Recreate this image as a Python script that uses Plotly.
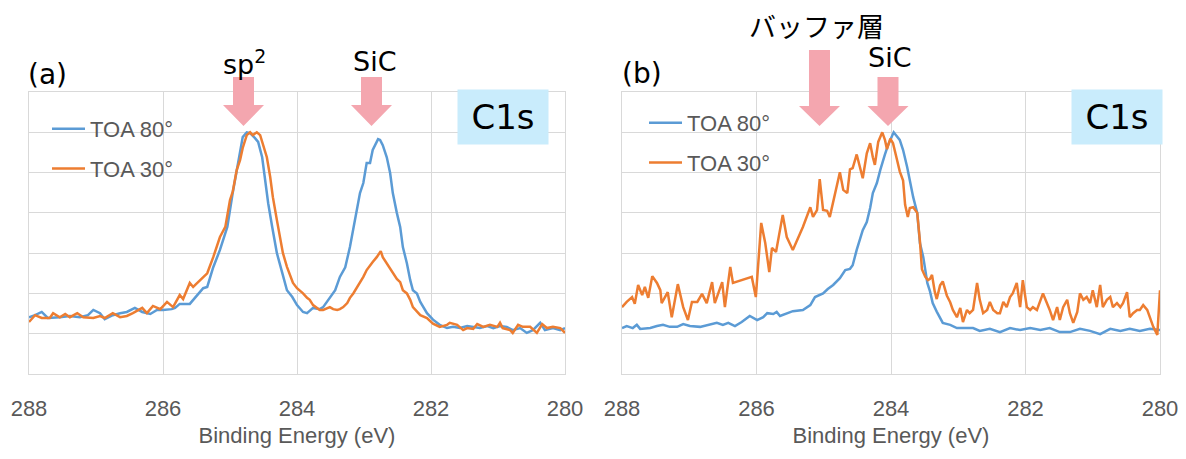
import plotly.graph_objects as go

W, H = 1186, 459

# ---------------- data (a) ----------------
E_a_80 = [288.00, 287.91, 287.81, 287.72, 287.54, 287.39, 287.24, 287.12, 287.04, 286.94,
          286.87, 286.75, 286.64, 286.54, 286.42, 286.31, 286.19, 286.09, 286.00, 285.87,
          285.82, 285.75, 285.60, 285.49, 285.40, 285.34, 285.25, 285.15, 285.04, 284.96,
          284.90, 284.85, 284.81, 284.75, 284.70, 284.63, 284.58, 284.52, 284.48, 284.43,
          284.37, 284.30, 284.22, 284.15, 284.07, 284.00, 283.91, 283.85, 283.76, 283.66,
          283.61, 283.51, 283.43, 283.36, 283.28, 283.21, 283.13, 283.06, 283.01, 282.96,
          282.91, 282.87, 282.79, 282.76, 282.72, 282.66, 282.61, 282.57, 282.51, 282.46,
          282.42, 282.36, 282.31, 282.27, 282.21, 282.16, 282.06, 281.97, 281.87, 281.76,
          281.67, 281.57, 281.46, 281.37, 281.27, 281.16, 281.07, 280.97, 280.87, 280.78,
          280.67, 280.57, 280.48, 280.37, 280.30, 280.18, 280.07, 280.00]
I_a_80 = [1.41, 1.46, 1.54, 1.39, 1.41, 1.44, 1.41, 1.46, 1.59, 1.51,
          1.36, 1.46, 1.51, 1.54, 1.64, 1.54, 1.49, 1.59, 1.59, 1.61,
          1.64, 1.74, 1.74, 1.94, 2.13, 2.16, 2.65, 3.08, 3.65, 4.49,
          5.06, 5.56, 5.88, 6.00, 5.98, 5.86, 5.76, 5.38, 4.81, 4.24,
          3.65, 3.00, 2.51, 2.08, 1.91, 1.71, 1.54, 1.51, 1.64, 1.61,
          1.66, 1.91, 2.08, 2.41, 2.65, 3.15, 3.90, 4.49, 4.74, 5.24,
          5.24, 5.56, 5.83, 5.81, 5.68, 5.38, 4.99, 4.49, 4.00, 3.65,
          3.15, 2.75, 2.33, 2.08, 2.00, 1.79, 1.51, 1.35, 1.22, 1.14,
          1.17, 1.14, 1.19, 1.17, 1.14, 1.19, 1.14, 1.19, 1.17, 1.09,
          1.14, 1.02, 1.09, 1.27, 1.09, 1.14, 1.09, 1.14]

E_a_30 = [288.00, 287.91, 287.81, 287.69, 287.64, 287.54, 287.46, 287.39, 287.28, 287.19,
          287.04, 286.94, 286.87, 286.75, 286.64, 286.54, 286.45, 286.31, 286.24, 286.15,
          286.04, 285.94, 285.85, 285.75, 285.70, 285.60, 285.55, 285.45, 285.34, 285.25,
          285.15, 285.07, 285.00, 284.96, 284.90, 284.85, 284.81, 284.75, 284.70, 284.66,
          284.60, 284.55, 284.51, 284.45, 284.40, 284.36, 284.30, 284.25, 284.21, 284.15,
          284.10, 284.06, 284.00, 283.96, 283.91, 283.85, 283.81, 283.76, 283.70, 283.66,
          283.61, 283.55, 283.51, 283.46, 283.40, 283.36, 283.31, 283.25, 283.21, 283.16,
          283.10, 283.06, 283.01, 282.96, 282.91, 282.87, 282.81, 282.75, 282.72, 282.66,
          282.61, 282.57, 282.51, 282.46, 282.42, 282.36, 282.31, 282.27, 282.21, 282.16,
          282.06, 281.97, 281.87, 281.76, 281.72, 281.61, 281.52, 281.46, 281.37, 281.31,
          281.22, 281.12, 281.01, 280.97, 280.93, 280.82, 280.78, 280.70, 280.63, 280.52,
          280.42, 280.34, 280.27, 280.18, 280.07, 280.00]
I_a_30 = [1.29, 1.46, 1.39, 1.39, 1.51, 1.41, 1.49, 1.41, 1.51, 1.41,
          1.39, 1.44, 1.39, 1.51, 1.41, 1.44, 1.51, 1.64, 1.51, 1.69,
          1.61, 1.79, 1.66, 1.96, 1.86, 2.26, 2.16, 2.33, 2.50, 2.90,
          3.40, 3.65, 4.32, 4.52, 5.06, 5.31, 5.61, 5.93, 6.00, 5.93,
          6.00, 5.93, 5.73, 5.38, 4.89, 4.39, 3.82, 3.40, 3.00, 2.66,
          2.41, 2.26, 2.13, 2.08, 2.00, 1.89, 1.84, 1.71, 1.64, 1.59,
          1.59, 1.64, 1.66, 1.61, 1.59, 1.61, 1.66, 1.76, 1.89, 2.00,
          2.16, 2.28, 2.41, 2.58, 2.70, 2.78, 2.90, 3.05, 2.90, 2.75,
          2.63, 2.51, 2.36, 2.28, 2.08, 2.00, 1.84, 1.66, 1.54, 1.46,
          1.39, 1.25, 1.17, 1.22, 1.27, 1.22, 1.09, 1.14, 1.12, 1.24,
          1.17, 1.22, 1.17, 1.27, 1.14, 1.09, 1.02, 1.22, 1.17, 1.17,
          1.02, 1.24, 1.14, 1.17, 1.14, 1.02]

# ---------------- data (b) ----------------
E_b_80 = [288.00, 287.93, 287.84, 287.78, 287.73, 287.58, 287.48, 287.39, 287.29, 287.18,
          287.09, 286.99, 286.84, 286.69, 286.59, 286.50, 286.42, 286.32, 286.22, 286.10,
          285.99, 285.90, 285.84, 285.75, 285.70, 285.65, 285.55, 285.46, 285.31, 285.20,
          285.13, 285.01, 284.94, 284.86, 284.76, 284.68, 284.61, 284.57, 284.51, 284.42,
          284.36, 284.31, 284.27, 284.21, 284.16, 284.12, 284.09, 284.04, 283.96, 283.87,
          283.82, 283.76, 283.72, 283.67, 283.61, 283.57, 283.52, 283.46, 283.42, 283.38,
          283.32, 283.23, 283.12, 283.02, 282.93, 282.78, 282.68, 282.53, 282.38, 282.23,
          282.08, 281.93, 281.78, 281.64, 281.49, 281.34, 281.19, 281.04, 280.89, 280.74,
          280.59, 280.45, 280.30, 280.15, 280.00]
I_b_80 = [1.14, 1.19, 1.14, 1.22, 1.12, 1.14, 1.19, 1.22, 1.17, 1.17,
          1.24, 1.19, 1.17, 1.22, 1.27, 1.22, 1.27, 1.19, 1.29, 1.44,
          1.34, 1.41, 1.51, 1.49, 1.54, 1.44, 1.51, 1.56, 1.59, 1.71,
          1.91, 2.00, 2.11, 2.21, 2.38, 2.58, 2.61, 2.70, 3.08, 3.57,
          3.77, 4.12, 4.49, 4.74, 5.06, 5.30, 5.45, 5.70, 6.00, 5.81,
          5.56, 5.14, 4.80, 4.39, 4.00, 3.25, 2.90, 2.26, 2.05, 1.76,
          1.55, 1.27, 1.22, 1.14, 1.14, 1.14, 1.07, 1.12, 1.04, 1.14,
          1.09, 1.14, 1.09, 1.14, 1.04, 1.04, 1.12, 1.07, 0.99, 1.12,
          1.07, 1.12, 1.07, 1.12, 1.09]

E_b_30 = [288.00, 287.93, 287.85, 287.81, 287.76, 287.70, 287.66, 287.61, 287.55, 287.48,
          287.43, 287.41, 287.32, 287.26, 287.17, 287.09, 287.02, 286.96, 286.88, 286.81,
          286.74, 286.66, 286.62, 286.51, 286.47, 286.39, 286.35, 286.25, 286.14, 286.07,
          286.01, 285.93, 285.87, 285.81, 285.77, 285.71, 285.61, 285.55, 285.46, 285.38,
          285.31, 285.20, 285.16, 285.10, 285.06, 285.01, 284.95, 284.91, 284.86, 284.80,
          284.76, 284.71, 284.65, 284.61, 284.57, 284.51, 284.46, 284.42, 284.36, 284.31,
          284.27, 284.24, 284.19, 284.13, 284.09, 284.06, 284.01, 283.97, 283.91, 283.87,
          283.82, 283.79, 283.75, 283.72, 283.67, 283.61, 283.57, 283.54, 283.49, 283.45,
          283.42, 283.39, 283.35, 283.32, 283.27, 283.23, 283.17, 283.12, 283.08, 283.02,
          282.97, 282.93, 282.87, 282.83, 282.78, 282.72, 282.68, 282.63, 282.57, 282.53,
          282.48, 282.42, 282.38, 282.33, 282.28, 282.23, 282.19, 282.13, 282.08, 282.04,
          281.98, 281.93, 281.89, 281.83, 281.74, 281.68, 281.64, 281.59, 281.53, 281.49,
          281.44, 281.38, 281.34, 281.29, 281.23, 281.19, 281.14, 281.09, 281.04, 281.00,
          280.94, 280.89, 280.85, 280.79, 280.74, 280.70, 280.64, 280.59, 280.55, 280.49,
          280.45, 280.40, 280.34, 280.30, 280.25, 280.19, 280.15, 280.10, 280.04, 280.00]
I_b_30 = [1.66, 1.79, 1.91, 1.74, 2.21, 1.96, 2.16, 1.89, 2.43, 2.26,
          2.08, 1.76, 2.03, 1.41, 2.23, 1.66, 1.34, 1.79, 1.79, 1.99,
          1.76, 2.28, 1.76, 2.28, 1.66, 2.66, 2.26, 2.31, 2.36, 2.41,
          1.91, 3.75, 3.25, 2.53, 3.13, 3.03, 3.95, 3.40, 3.08, 3.37,
          3.65, 4.14, 3.90, 4.07, 4.84, 4.07, 4.05, 3.90, 4.30, 4.74,
          5.01, 4.57, 4.49, 5.08, 5.11, 5.45, 5.14, 4.86, 5.48, 5.73,
          5.38, 5.19, 5.76, 6.00, 5.81, 5.58, 5.84, 5.73, 5.31, 5.03,
          4.80, 4.20, 3.90, 4.12, 4.14, 4.00, 3.30, 2.60, 2.41, 2.33,
          2.36, 2.46, 2.05, 1.86, 2.20, 2.30, 1.95, 1.78, 1.59, 1.41,
          1.64, 1.29, 1.59, 1.51, 1.59, 2.26, 1.84, 1.51, 1.59, 1.79,
          1.59, 1.51, 1.51, 1.79, 1.66, 1.91, 2.00, 2.26, 1.66, 2.33,
          1.66, 1.59, 1.66, 1.59, 2.00, 1.76, 1.59, 1.34, 1.66, 1.34,
          1.66, 1.84, 1.51, 1.27, 1.54, 2.00, 1.84, 1.91, 1.76, 2.08,
          1.66, 2.21, 1.66, 1.84, 1.91, 1.66, 1.76, 1.66, 1.76, 2.03,
          1.41, 1.51, 1.59, 1.59, 1.71, 1.59, 1.41, 1.17, 0.97, 2.08]

series_names = ["TOA 80°", "TOA 30°"]
tick_vals = [288, 286, 284, 282, 280]
x_title = "Binding Energy (eV)"

BLUE = "#5B9BD5"
ORANGE = "#ED7D31"
PINK = "#F4A6AF"
GRID = "#D9D9D9"
GRAY = "#595959"
SANS = "Liberation Sans, Arial, sans-serif"
LABEL_FONT = "DejaVu Sans, Verdana, sans-serif"


def px(x):
    return x / W


def py(y):
    return 1 - y / H


fig = go.Figure()
fig.add_trace(go.Scatter(x=E_a_80, y=I_a_80, name=series_names[0], mode="lines",
                         line=dict(color=BLUE, width=2.5), xaxis="x", yaxis="y",
                         legend="legend", legendgroup="a80"))
fig.add_trace(go.Scatter(x=E_a_30, y=I_a_30, name=series_names[1], mode="lines",
                         line=dict(color=ORANGE, width=2.5), xaxis="x", yaxis="y",
                         legend="legend", legendgroup="a30"))
fig.add_trace(go.Scatter(x=E_b_80, y=I_b_80, name=series_names[0], mode="lines",
                         line=dict(color=BLUE, width=2.5), xaxis="x2", yaxis="y2",
                         legend="legend2", legendgroup="b80"))
fig.add_trace(go.Scatter(x=E_b_30, y=I_b_30, name=series_names[1], mode="lines",
                         line=dict(color=ORANGE, width=2.5), xaxis="x2", yaxis="y2",
                         legend="legend2", legendgroup="b30"))

xcommon = dict(range=[288, 280], tickvals=tick_vals, ticktext=[str(v) for v in tick_vals],
               showgrid=True, gridcolor=GRID, gridwidth=1, zeroline=False,
               showline=True, mirror=True, linecolor=GRID, linewidth=1,
               ticks="", ticklabelstandoff=15,
               tickfont=dict(family=SANS, size=22, color=GRAY),
               title=dict(text=x_title, font=dict(family=SANS, size=22, color=GRAY), standoff=7),
               automargin=False, fixedrange=True)
ycommon = dict(range=[0, 7], dtick=1, tick0=0, showgrid=True, gridcolor=GRID, gridwidth=1,
               zeroline=False, showticklabels=False, ticks="",
               showline=True, mirror=True, linecolor=GRID, linewidth=1,
               automargin=False, fixedrange=True)

legcommon = dict(font=dict(family=SANS, size=22, color=GRAY), bgcolor="rgba(0,0,0,0)",
                 xanchor="left", yanchor="top", tracegroupgap=8, itemwidth=33,
                 traceorder="grouped")

fig.update_layout(
    width=W, height=H,
    margin=dict(l=0, r=0, t=0, b=0),
    paper_bgcolor="white", plot_bgcolor="white",
    showlegend=True,
    xaxis=dict(domain=[px(29), px(565)], anchor="y", **xcommon),
    yaxis=dict(domain=[py(374), py(92)], anchor="x", **ycommon),
    xaxis2=dict(domain=[px(622), px(1160)], anchor="y2", **xcommon),
    yaxis2=dict(domain=[py(374), py(92)], anchor="x2", **ycommon),
    legend=dict(x=px(47), y=py(108), **legcommon),
    legend2=dict(x=px(644), y=py(102), **legcommon),
)


def arrow_path(cx, shaft_top, head_top, tip, shaft_w=21, head_w=41):
    pts = [(cx - shaft_w / 2, shaft_top), (cx + shaft_w / 2, shaft_top),
           (cx + shaft_w / 2, head_top), (cx + head_w / 2, head_top),
           (cx, tip), (cx - head_w / 2, head_top), (cx - shaft_w / 2, head_top)]
    d = "M " + " L ".join(f"{px(x):.5f},{py(y):.5f}" for x, y in pts) + " Z"
    return d


arrows = [(243.5, 77, 105, 126), (371.5, 77, 105, 126),
          (819.5, 50, 106, 126), (888, 77, 106, 126)]
for cx, st, ht, tp in arrows:
    fig.add_shape(type="path", path=arrow_path(cx, st, ht, tp), xref="paper", yref="paper",
                  fillcolor=PINK, line=dict(width=0), layer="above")

labels = [("(a)", 47, 75, LABEL_FONT, 28),
          ("(b)", 642, 74, LABEL_FONT, 28),
          ("sp<sup>2</sup>", 244, 62, LABEL_FONT, 27),
          ("SiC", 375, 61, LABEL_FONT, 27),
          ("SiC", 890, 57, LABEL_FONT, 27),
          ("バッファ層", 816, 26, "Noto Sans CJK JP", 27)]
for t, x, y, f, s in labels:
    fig.add_annotation(text=t, x=px(x), y=py(y), xref="paper", yref="paper",
                       xanchor="center", yanchor="middle", showarrow=False,
                       font=dict(family=f, size=s, color="#000000"))

for cx in (503, 1117):
    fig.add_annotation(text="C1s", x=px(cx), y=py(117), xref="paper", yref="paper",
                       xanchor="center", yanchor="middle", showarrow=False,
                       width=90, height=54, borderpad=0, bgcolor="#C9ECFC",
                       font=dict(family=LABEL_FONT, size=34, color="#000000"))

fig.write_html("out.html", config={"displayModeBar": False},
               post_script="document.body.style.margin='0px';document.body.style.overflow='hidden';")
